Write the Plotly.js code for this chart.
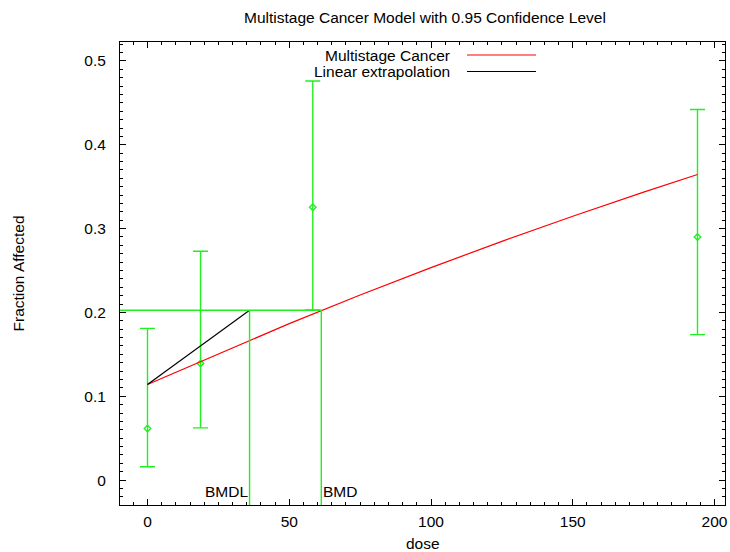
<!DOCTYPE html>
<html>
<head>
<meta charset="utf-8">
<script src="https://cdn.plot.ly/plotly-3.0.1.min.js"></script>
<style>
  html, body { margin: 0; padding: 0; background: #fff; }
  #chart { width: 730px; height: 552px; }
</style>
</head>
<body>
<div id="chart"></div>
<script>
// Observed dose groups: fraction affected with 95% confidence limits
const doses = [0, 18.7, 58.3, 194];
const fractionAffected = [0.0615, 0.139, 0.3254, 0.290];
const lowerLimit = [0.016, 0.0623, 0.203, 0.1735];
const upperLimit = [0.181, 0.273, 0.476, 0.442];

// Fitted multistage cancer curve
const modelDoses = [0, 25, 50, 75, 100, 125, 150, 175, 194];
const modelFraction = [0.114, 0.1508, 0.1867, 0.2208, 0.2535, 0.2848, 0.3148, 0.3435, 0.3646];

// Benchmark response level, BMD and BMDL
const bmrLevel = 0.2026;
const bmd = 61.3;
const bmdl = 36.0;
const backgroundFraction = 0.114;

const xRange = [-9.7, 203.7];
const yRange = [-0.0297, 0.5226];

const green = '#22ee22';
const fontFamily = '"Liberation Sans", Arial, Helvetica, sans-serif';
const fontSize = 15.5;

const traces = [
  {
    x: doses,
    y: fractionAffected,
    type: 'scatter',
    mode: 'markers',
    marker: { symbol: 'diamond-open', size: 5, color: green, line: { width: 1.4, color: green } },
    error_y: {
      type: 'data',
      symmetric: false,
      array: upperLimit.map((u, i) => u - fractionAffected[i]),
      arrayminus: lowerLimit.map((l, i) => fractionAffected[i] - l),
      color: green,
      thickness: 1.4,
      width: 7.5
    },
    hoverinfo: 'x+y'
  },
  {
    x: modelDoses,
    y: modelFraction,
    type: 'scatter',
    mode: 'lines',
    line: { color: '#ff0000', width: 1.2 }
  },
  {
    x: [0, bmdl],
    y: [backgroundFraction, bmrLevel],
    type: 'scatter',
    mode: 'lines',
    line: { color: '#000000', width: 1.2 }
  },
  // BMR horizontal and BMD/BMDL drop lines
  {
    x: [xRange[0], bmd, bmd],
    y: [bmrLevel, bmrLevel, yRange[0]],
    type: 'scatter',
    mode: 'lines',
    line: { color: green, width: 1.4 },
    hoverinfo: 'skip'
  },
  {
    x: [bmdl, bmdl],
    y: [bmrLevel, yRange[0]],
    type: 'scatter',
    mode: 'lines',
    line: { color: green, width: 1.4 },
    hoverinfo: 'skip'
  }
];

const axisCommon = {
  showgrid: false,
  zeroline: false,
  showline: true,
  linecolor: '#000',
  linewidth: 1,
  mirror: 'ticks',
  ticks: 'inside',
  ticklen: 6,
  tickcolor: '#000',
  tickwidth: 1,
  tickfont: { family: fontFamily, size: fontSize, color: '#000' },
  fixedrange: true
};

const layout = {
  width: 730,
  height: 552,
  margin: { l: 120, r: 5, t: 42, b: 47, pad: 0 },
  paper_bgcolor: '#fff',
  plot_bgcolor: '#fff',
  showlegend: false,
  font: { family: fontFamily, size: fontSize, color: '#000' },
  title: {
    text: 'Multistage Cancer Model with 0.95 Confidence Level',
    font: { family: fontFamily, size: fontSize, color: '#000' },
    x: 0.5821, xanchor: 'center', xref: 'container',
    y: 1 - 18 / 552, yanchor: 'middle', yref: 'container'
  },
  xaxis: Object.assign({}, axisCommon, {
    range: xRange,
    tickmode: 'linear', tick0: 0, dtick: 50,
    minor: { ticks: 'inside', ticklen: 3, dtick: 5, tick0: 0, tickcolor: '#000', tickwidth: 1 },
    ticklabelstandoff: 2
  }),
  yaxis: Object.assign({}, axisCommon, {
    range: yRange,
    tickmode: 'linear', tick0: 0, dtick: 0.1,
    minor: { ticks: 'inside', ticklen: 3, dtick: 0.01, tick0: 0, tickcolor: '#000', tickwidth: 1 },
    ticklabelstandoff: 10
  }),
  annotations: [
    { text: 'dose', xref: 'paper', yref: 'paper', x: 0.5, y: -(543 - 505) / 463,
      xanchor: 'center', yanchor: 'middle', showarrow: false },
    { text: 'Fraction Affected', xref: 'paper', yref: 'paper', x: -(120 - 18) / 605, y: 0.5,
      xanchor: 'center', yanchor: 'middle', textangle: -90, showarrow: false },
    { text: 'BMDL', xref: 'x', yref: 'y', x: bmdl, y: -0.013,
      xanchor: 'right', yanchor: 'middle', showarrow: false },
    { text: 'BMD', xref: 'x', yref: 'y', x: bmd, y: -0.013,
      xanchor: 'left', yanchor: 'middle', showarrow: false },
    // key entries
    { text: 'Multistage Cancer', xref: 'paper', yref: 'paper', x: (452 - 120) / 605, y: (505 - 55) / 463,
      xanchor: 'right', yanchor: 'middle', showarrow: false },
    { text: 'Linear extrapolation', xref: 'paper', yref: 'paper', x: (452 - 120) / 605, y: (505 - 71.5) / 463,
      xanchor: 'right', yanchor: 'middle', showarrow: false }
  ],
  shapes: [
    { type: 'line', xref: 'paper', yref: 'paper',
      x0: (467 - 120) / 605, x1: (536 - 120) / 605, y0: (505 - 55) / 463, y1: (505 - 55) / 463,
      line: { color: '#ff0000', width: 1.2 } },
    { type: 'line', xref: 'paper', yref: 'paper',
      x0: (467 - 120) / 605, x1: (536 - 120) / 605, y0: (505 - 71.5) / 463, y1: (505 - 71.5) / 463,
      line: { color: '#000000', width: 1.2 } }
  ]
};

Plotly.newPlot('chart', traces, layout, { displayModeBar: false, staticPlot: true });
</script>
</body>
</html>
